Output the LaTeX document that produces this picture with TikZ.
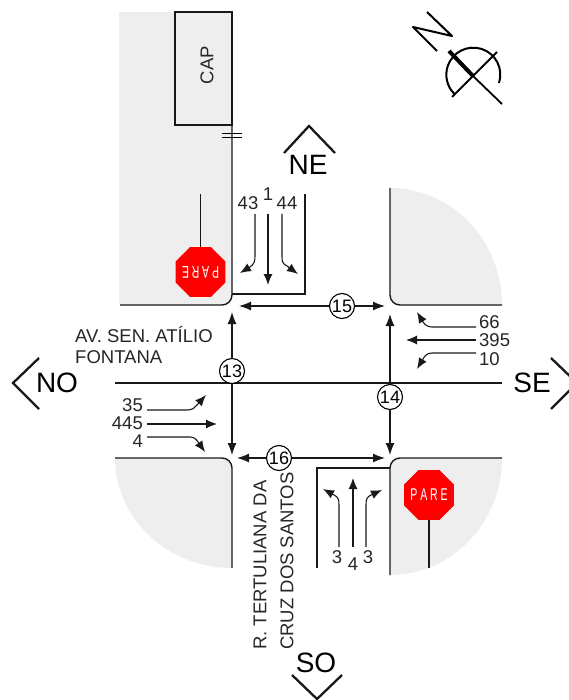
\documentclass[tikz,border=0pt]{standalone}
\usepackage{graphicx}
\usepackage{fontspec}
\setmainfont{Liberation Sans}
\usetikzlibrary{arrows.meta,shapes.geometric}
\definecolor{calcada}{HTML}{EEEEEE}
\newcommand{\parelabel}{\makebox[0pt]{\scalebox{0.62}[1]{P\kern4.5pt A\kern4.5pt R\kern4.5pt E}}}
\tikzset{
    via/.style={line width=1.4pt, black!90},
    flow/.style={line width=1.1pt, black!90, -{Latex[length=11pt,width=9pt]}},
    flowtwo/.style={line width=1.2pt, black!90, -{Latex[length=12pt,width=9pt]}},
    seta/.style={line width=2.3pt, black!90},
    ponto/.style={circle, draw, line width=1.1pt, fill=white, minimum size=25pt, inner sep=0pt, font=\fontsize{18}{18}\selectfont},
    conta/.style={inner sep=0pt, text=black!85, font=\fontsize{18.5}{18.5}\selectfont},
    rua/.style={inner sep=0pt, text=black!85, font=\fontsize{18.5}{18.5}\selectfont},
    rumo/.style={inner sep=0pt, font=\fontsize{28}{28}\selectfont},
    pare/.style={regular polygon, regular polygon sides=8, fill=red, text=white, minimum size=54pt, inner sep=0pt, font=\fontsize{17}{17}\selectfont},
}
\begin{document}
\begin{tikzpicture}[x=1pt,y=-1pt]
    \useasboundingbox (0,0) rectangle (568,700);
    % calcadas
    \fill [calcada] (119,12) -- (232,12) -- (232,295) arc[start angle=0,end angle=-90,radius=10pt] -- (119,305) -- cycle;
    \fill [calcada] (390,188) arc[start angle=90,end angle=0,x radius=112pt,y radius=117pt] -- (400,305) arc[start angle=270,end angle=180,radius=10pt] -- cycle;
    \fill [calcada] (115,458) arc[start angle=180,end angle=270,x radius=117pt,y radius=110pt] -- (232,468) arc[start angle=0,end angle=90,radius=10pt] -- cycle;
    \fill [calcada] (502,458) arc[start angle=0,end angle=-90,x radius=112pt,y radius=117pt] -- (390,468) arc[start angle=180,end angle=90,radius=10pt] -- cycle;
    % vias
    \draw [via] (232,12) -- (232,295) arc[start angle=0,end angle=-90,radius=10pt] -- (120,305);
    \draw [via] (390,188) -- (390,295) arc[start angle=180,end angle=270,radius=10pt] -- (502,305);
    \draw [via] (115,458) -- (222,458) arc[start angle=90,end angle=0,radius=10pt] -- (232,568);
    \draw [via] (502,458) -- (400,458) arc[start angle=90,end angle=180,radius=10pt] -- (390,575);
    \draw [via] (115,383) -- (502,383);
    \draw [via] (232,294) -- (305,294) -- (305,194);
    \draw [via] (390,468) -- (317,468) -- (317,568);
    \draw [line width=1pt] (222,133.5) -- (242,133.5) (222,138) -- (242,138);
    % capela
    \node [draw, line width=1.4pt, black!90, minimum width=57pt, minimum height=113pt, inner sep=0pt] (cap) at (203.5,68.5) {};
    \node [rua, rotate=90] (capl) at (207,65) {CAP};
    % placas
    \node [pare, rotate=180] (stopn) at (200.5,272) {\parelabel};
    \node [pare] (stops) at (429,495) {\parelabel};
    \coordinate (poston) at (200.5,194);
    \coordinate (postos) at (429,568);
    \draw [line width=1.2pt, black!90] (stopn) -- (poston);
    \draw [line width=1.2pt, black!90] (stops) -- (postos);
    % pontos
    \node [ponto] (p13) at (232,371) {13};
    \node [ponto] (p14) at (390,397) {14};
    \node [ponto] (p15) at (342,306) {15};
    \node [ponto] (p16) at (279,458) {16};
    \foreach \n/\x/\y in {t13/232/312,b13/232/455,t14/390/314,b14/390/455,w15/239/306,e15/385/306,w16/237/458,e16/385/458}
        \coordinate (\n) at (\x,\y);
    \draw [flowtwo] (p13) -- (t13);
    \draw [flowtwo] (p13) -- (b13);
    \draw [flowtwo] (p14) -- (t14);
    \draw [flowtwo] (p14) -- (b14);
    \draw [flowtwo] (p15) -- (w15);
    \draw [flowtwo] (p15) -- (e15);
    \draw [flowtwo] (p16) -- (w16);
    \draw [flowtwo] (p16) -- (e16);
    % movimentos NE
    \node [conta] (n43) at (248,203) {43};
    \node [conta] (n1) at (268,194) {1};
    \node [conta] (n44) at (287,203) {44};
    \foreach \n/\x/\y in {sa/255/214,ea/240/273,sb/268/214,eb/268/285,sc/282/214,ec/298/274}
        \coordinate (\n) at (\x,\y);
    \draw [flow] (sa) -- (255,256) .. controls (255,262) and (254,264) .. (250,267) -- (ea);
    \draw [flow] (sb) -- (eb);
    \draw [flow] (sc) -- (282,257) .. controls (282,262) and (283,264) .. (287,266) -- (ec);
    % movimentos SO
    \node [conta] (n3a) at (337,557) {3};
    \node [conta] (n4) at (353,564) {4};
    \node [conta] (n3b) at (368,557) {3};
    \foreach \n/\x/\y in {sd/339/547,ed/323/489,se/353/547,ee/353/478,sf/366/547,ef/382/490}
        \coordinate (\n) at (\x,\y);
    \draw [flow] (sd) -- (339,505) .. controls (339,499) and (338,497) .. (334,495) -- (ed);
    \draw [flow] (se) -- (ee);
    \draw [flow] (sf) -- (366,505) .. controls (366,499) and (367,497) .. (371,495) -- (ef);
    % movimentos NO
    \node [conta, anchor=east] (n35) at (143,405) {35};
    \node [conta, anchor=east] (n445) at (143,423) {445};
    \node [conta, anchor=east] (n4b) at (143,441) {4};
    \foreach \n/\x/\y in {sg/147/410,eg/206/395,sh/147/424,eh/217/424,si/147/437,ei/205/452}
        \coordinate (\n) at (\x,\y);
    \draw [flow] (sg) -- (187,410) .. controls (192,410) and (195,408) .. (197,405) -- (eg);
    \draw [flow] (sh) -- (eh);
    \draw [flow] (si) -- (190,437) .. controls (194,437) and (196,439) .. (198,442) -- (ei);
    % movimentos SE
    \node [conta, anchor=west] (n66) at (479,322) {66};
    \node [conta, anchor=west] (n395) at (479,340) {395};
    \node [conta, anchor=west] (n10) at (479,359) {10};
    \foreach \n/\x/\y in {sj/476/327,ej/417/312,sk/476/340,ek/406/340,sl/476/353,el/417/369}
        \coordinate (\n) at (\x,\y);
    \draw [flow] (sj) -- (432,327) .. controls (428,327) and (425,325) .. (423,322) -- (ej);
    \draw [flow] (sk) -- (ek);
    \draw [flow] (sl) -- (432,353) .. controls (428,353) and (425,355) .. (423,359) -- (el);
    % nomes das ruas
    \node [rua, anchor=west] (av1) at (75,335) {AV. SEN. ATÍLIO};
    \node [rua, anchor=west] (av2) at (75,357) {FONTANA};
    \node [rua, rotate=90, anchor=west] (rt1) at (260,650) {R. TERTULIANA DA};
    \node [rua, rotate=90, anchor=west] (rt2) at (287,650) {CRUZ DOS SANTOS};
    % sentidos
    \node [rumo] (ne) at (308,165) {NE};
    \node [rumo] (no) at (57,383) {NO};
    \node [rumo] (se) at (532,383) {SE};
    \node [rumo] (so) at (316,663) {SO};
    \draw [seta] (284,153) -- (309,126) -- (335,153);
    \draw [seta] (39,358) -- (13,383) -- (39,409);
    \draw [seta] (551,358) -- (577,383) -- (551,409);
    \draw [seta] (292,675) -- (317,699) -- (342,675);
    % norte
    \draw [line width=2pt, line join=round] (427,12) -- (452,36) -- (413,27) -- (437,51);
    \draw [line width=2pt] (499,83) arc[start angle=-18,end angle=225,radius=27pt];
    \draw [line width=2pt] (452,97) -- (497,52);
    \draw [line width=1.8pt] (473,76) -- (502,104);
    \draw [line width=4pt] (449,51) -- (473,76);
\end{tikzpicture}
\end{document}
